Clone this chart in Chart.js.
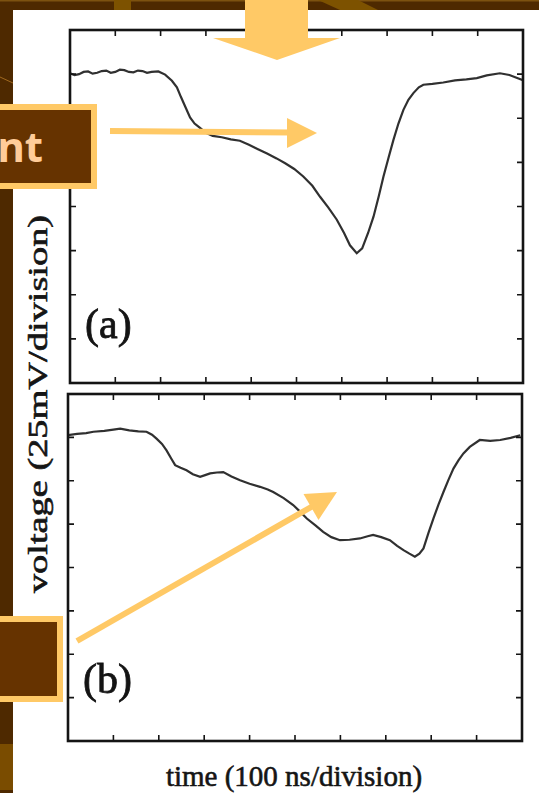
<!DOCTYPE html>
<html>
<head>
<meta charset="utf-8">
<script src="https://cdn.jsdelivr.net/npm/chart.js@4.4.1/dist/chart.umd.min.js"></script>
<style>
  html, body { margin: 0; padding: 0; }
  body { width: 539px; height: 793px; background: #4e2900; position: relative; overflow: hidden; }
  #panel { position: absolute; left: 13px; top: 10px; width: 526px; height: 783px; background: #fff; }
  canvas { position: absolute; }
  #chartA { left: 66px; top: 26px; }
  #chartB { left: 64px; top: 390px; }
  .axis { position: absolute; font-family: "Liberation Serif", serif; color: #151515; white-space: nowrap; -webkit-text-stroke: 0.6px #151515; }
  #ylabel { left: 38px; top: 404px; font-size: 28px; transform: translate(-50%, -50%) rotate(-90deg) scaleX(1.37); }
  #xlabel { left: 294px; top: 776px; font-size: 29px; transform: translate(-50%, -50%); }
  svg { position: absolute; left: 0; top: 0; }
</style>
</head>
<body>
<div id="panel"></div>
<canvas id="chartA" width="461" height="361"></canvas>
<canvas id="chartB" width="462" height="355"></canvas>
<div class="axis" id="ylabel">voltage (25mV/division)</div>
<div class="axis" id="xlabel">time (100 ns/division)</div>

<svg width="539" height="793" viewBox="0 0 539 793">
  <!-- background bits of the slide -->
  <rect x="0" y="0" width="539" height="1.5" fill="#7d5210"/>
  <rect x="114" y="0" width="17" height="10" fill="#7d5200"/>
  <polygon points="318,0 358,0 378,10 340,10" fill="#7d5200"/>
  <rect x="0" y="744" width="13" height="46" fill="#7a4c00"/>
  <line x1="0" y1="77" x2="13" y2="83" stroke="#a06a20" stroke-width="1"/>
  <!-- top arrow -->
  <polygon points="245,0 308,0 308,38 340,38 277,60 213,38 245,38" fill="#ffc966"/>
  <!-- upper box -->
  <rect x="-10" y="107" width="104" height="79" fill="#663300" stroke="#ffc966" stroke-width="6"/>
  <text x="43" y="162" text-anchor="end" font-family="Noto Sans, sans-serif" font-weight="700" font-size="42" fill="#ffcc99">nt</text>
  <line x1="110" y1="131" x2="292" y2="132.5" stroke="#ffc966" stroke-width="6"/>
  <polygon points="287,118 317,133 287,148" fill="#ffc966"/>
  <!-- lower box -->
  <rect x="-10" y="619" width="70" height="80" fill="#663300" stroke="#ffc966" stroke-width="6"/>
  <line x1="77" y1="641" x2="313" y2="506" stroke="#ffc966" stroke-width="6"/>
  <polygon points="303.5,494 337,492 318.5,520" fill="#ffc966"/>
</svg>

<script>
// division ticks
const xTicks = [1, 2, 3, 4, 5, 6, 7, 8, 9];
const yTicks = [1, 2, 3, 4, 5, 6, 7];

// trace (a): time (div), voltage (div)
const timeA = [0.00, 0.10, 0.20, 0.30, 0.40, 0.50, 0.60, 0.70, 0.80, 0.90, 1.00, 1.10, 1.20, 1.30, 1.40,
  1.50, 1.60, 1.70, 1.80, 1.95, 2.10, 2.25, 2.36, 2.45, 2.55, 2.65, 2.75, 2.87, 3.00, 3.15, 3.35, 3.55,
  3.75, 3.95, 4.15, 4.35, 4.56, 4.75, 4.95, 5.15, 5.35, 5.52, 5.70, 5.89, 6.05, 6.18, 6.33, 6.45, 6.58,
  6.70, 6.82, 6.92, 7.03, 7.14, 7.25, 7.36, 7.47, 7.58, 7.70, 7.80, 8.00, 8.24, 8.50, 8.75, 8.98, 9.20,
  9.49, 9.70, 9.90, 10.0];
const voltA = [7.02, 6.98, 7.00, 7.05, 7.06, 7.01, 7.03, 7.07, 7.08, 7.03, 7.05, 7.10, 7.09, 7.05, 7.04,
  7.08, 7.07, 7.03, 7.05, 7.06, 6.99, 6.85, 6.70, 6.48, 6.25, 6.02, 5.88, 5.78, 5.67, 5.60, 5.57, 5.52,
  5.49, 5.40, 5.30, 5.20, 5.09, 4.98, 4.85, 4.68, 4.47, 4.22, 3.98, 3.70, 3.40, 3.12, 2.94, 3.05, 3.40,
  3.77, 4.25, 4.68, 5.10, 5.51, 5.88, 6.19, 6.42, 6.57, 6.70, 6.76, 6.78, 6.81, 6.86, 6.88, 6.91, 6.97,
  7.02, 6.98, 6.90, 6.86];

// trace (b)
const timeB = [0.00, 0.20, 0.40, 0.56, 0.80, 1.00, 1.15, 1.35, 1.55, 1.73, 1.85, 1.95, 2.07, 2.17, 2.27,
  2.36, 2.48, 2.61, 2.75, 2.91, 3.02, 3.13, 3.28, 3.42, 3.60, 3.79, 4.00, 4.23, 4.40, 4.52, 4.75, 4.96,
  5.10, 5.26, 5.45, 5.62, 5.80, 5.99, 6.20, 6.43, 6.60, 6.72, 6.90, 7.09, 7.25, 7.39, 7.52, 7.64, 7.74,
  7.83, 7.94, 8.05, 8.16, 8.27, 8.38, 8.49, 8.60, 8.71, 8.85, 9.07, 9.30, 9.52, 9.75, 9.96];
const voltB = [7.05, 7.08, 7.10, 7.13, 7.15, 7.18, 7.20, 7.16, 7.14, 7.13, 7.06, 6.97, 6.85, 6.70, 6.52,
  6.36, 6.30, 6.24, 6.15, 6.09, 6.13, 6.17, 6.19, 6.20, 6.10, 6.01, 5.93, 5.86, 5.80, 5.74, 5.60, 5.44,
  5.30, 5.13, 4.97, 4.82, 4.70, 4.63, 4.64, 4.67, 4.72, 4.75, 4.70, 4.63, 4.50, 4.40, 4.32, 4.25, 4.32,
  4.44, 4.80, 5.13, 5.45, 5.74, 6.02, 6.28, 6.47, 6.63, 6.78, 6.94, 6.92, 6.94, 6.99, 7.05];

// box, inward ticks and panel letter
const scopeFrame = {
  id: 'scopeFrame',
  afterDatasetsDraw(chart, args, opts) {
    const { ctx, chartArea: a, scales: { x, y } } = chart;
    ctx.save();
    ctx.strokeStyle = '#141414';
    ctx.lineWidth = 1.6;
    ctx.beginPath();
    xTicks.forEach(v => {
      const px = x.getPixelForValue(v);
      ctx.moveTo(px, a.top); ctx.lineTo(px, a.top + 6);
      ctx.moveTo(px, a.bottom); ctx.lineTo(px, a.bottom - 6);
    });
    yTicks.forEach(v => {
      const py = y.getPixelForValue(v);
      ctx.moveTo(a.left, py); ctx.lineTo(a.left + 6, py);
      ctx.moveTo(a.right, py); ctx.lineTo(a.right - 6, py);
    });
    ctx.stroke();
    ctx.lineWidth = 2.6;
    ctx.strokeRect(a.left, a.top, a.right - a.left, a.bottom - a.top);
    ctx.font = '42px "Liberation Serif"';
    ctx.fillStyle = '#141414';
    ctx.lineWidth = 0.8;
    ctx.textBaseline = 'middle';
    ctx.fillText(opts.label, a.left + 15, a.bottom - opts.offset);
    ctx.strokeText(opts.label, a.left + 15, a.bottom - opts.offset);
    ctx.restore();
  }
};

const makeScope = (id, times, volts, label, offset) => {
  new Chart(id, {
    type: 'scatter',
    data: {
      datasets: [{
        data: times.map((t, i) => ({ x: t, y: volts[i] })),
        showLine: true,
        borderColor: 'rgba(25,25,25,0.9)',
        borderWidth: 2.2,
        pointRadius: 0,
        tension: 0
      }]
    },
    options: {
      responsive: false,
      animation: false,
      layout: { padding: 4 },
      plugins: {
        legend: { display: false },
        tooltip: { enabled: false },
        scopeFrame: { label: label, offset: offset }
      },
      scales: {
        x: { type: 'linear', min: 0, max: 10, display: false },
        y: { type: 'linear', min: 0, max: 8, display: false }
      }
    },
    plugins: [scopeFrame]
  });
};

makeScope('chartA', timeA, voltA, '(a)', 56);
makeScope('chartB', timeB, voltB, '(b)', 59);
</script>
</body>
</html>
